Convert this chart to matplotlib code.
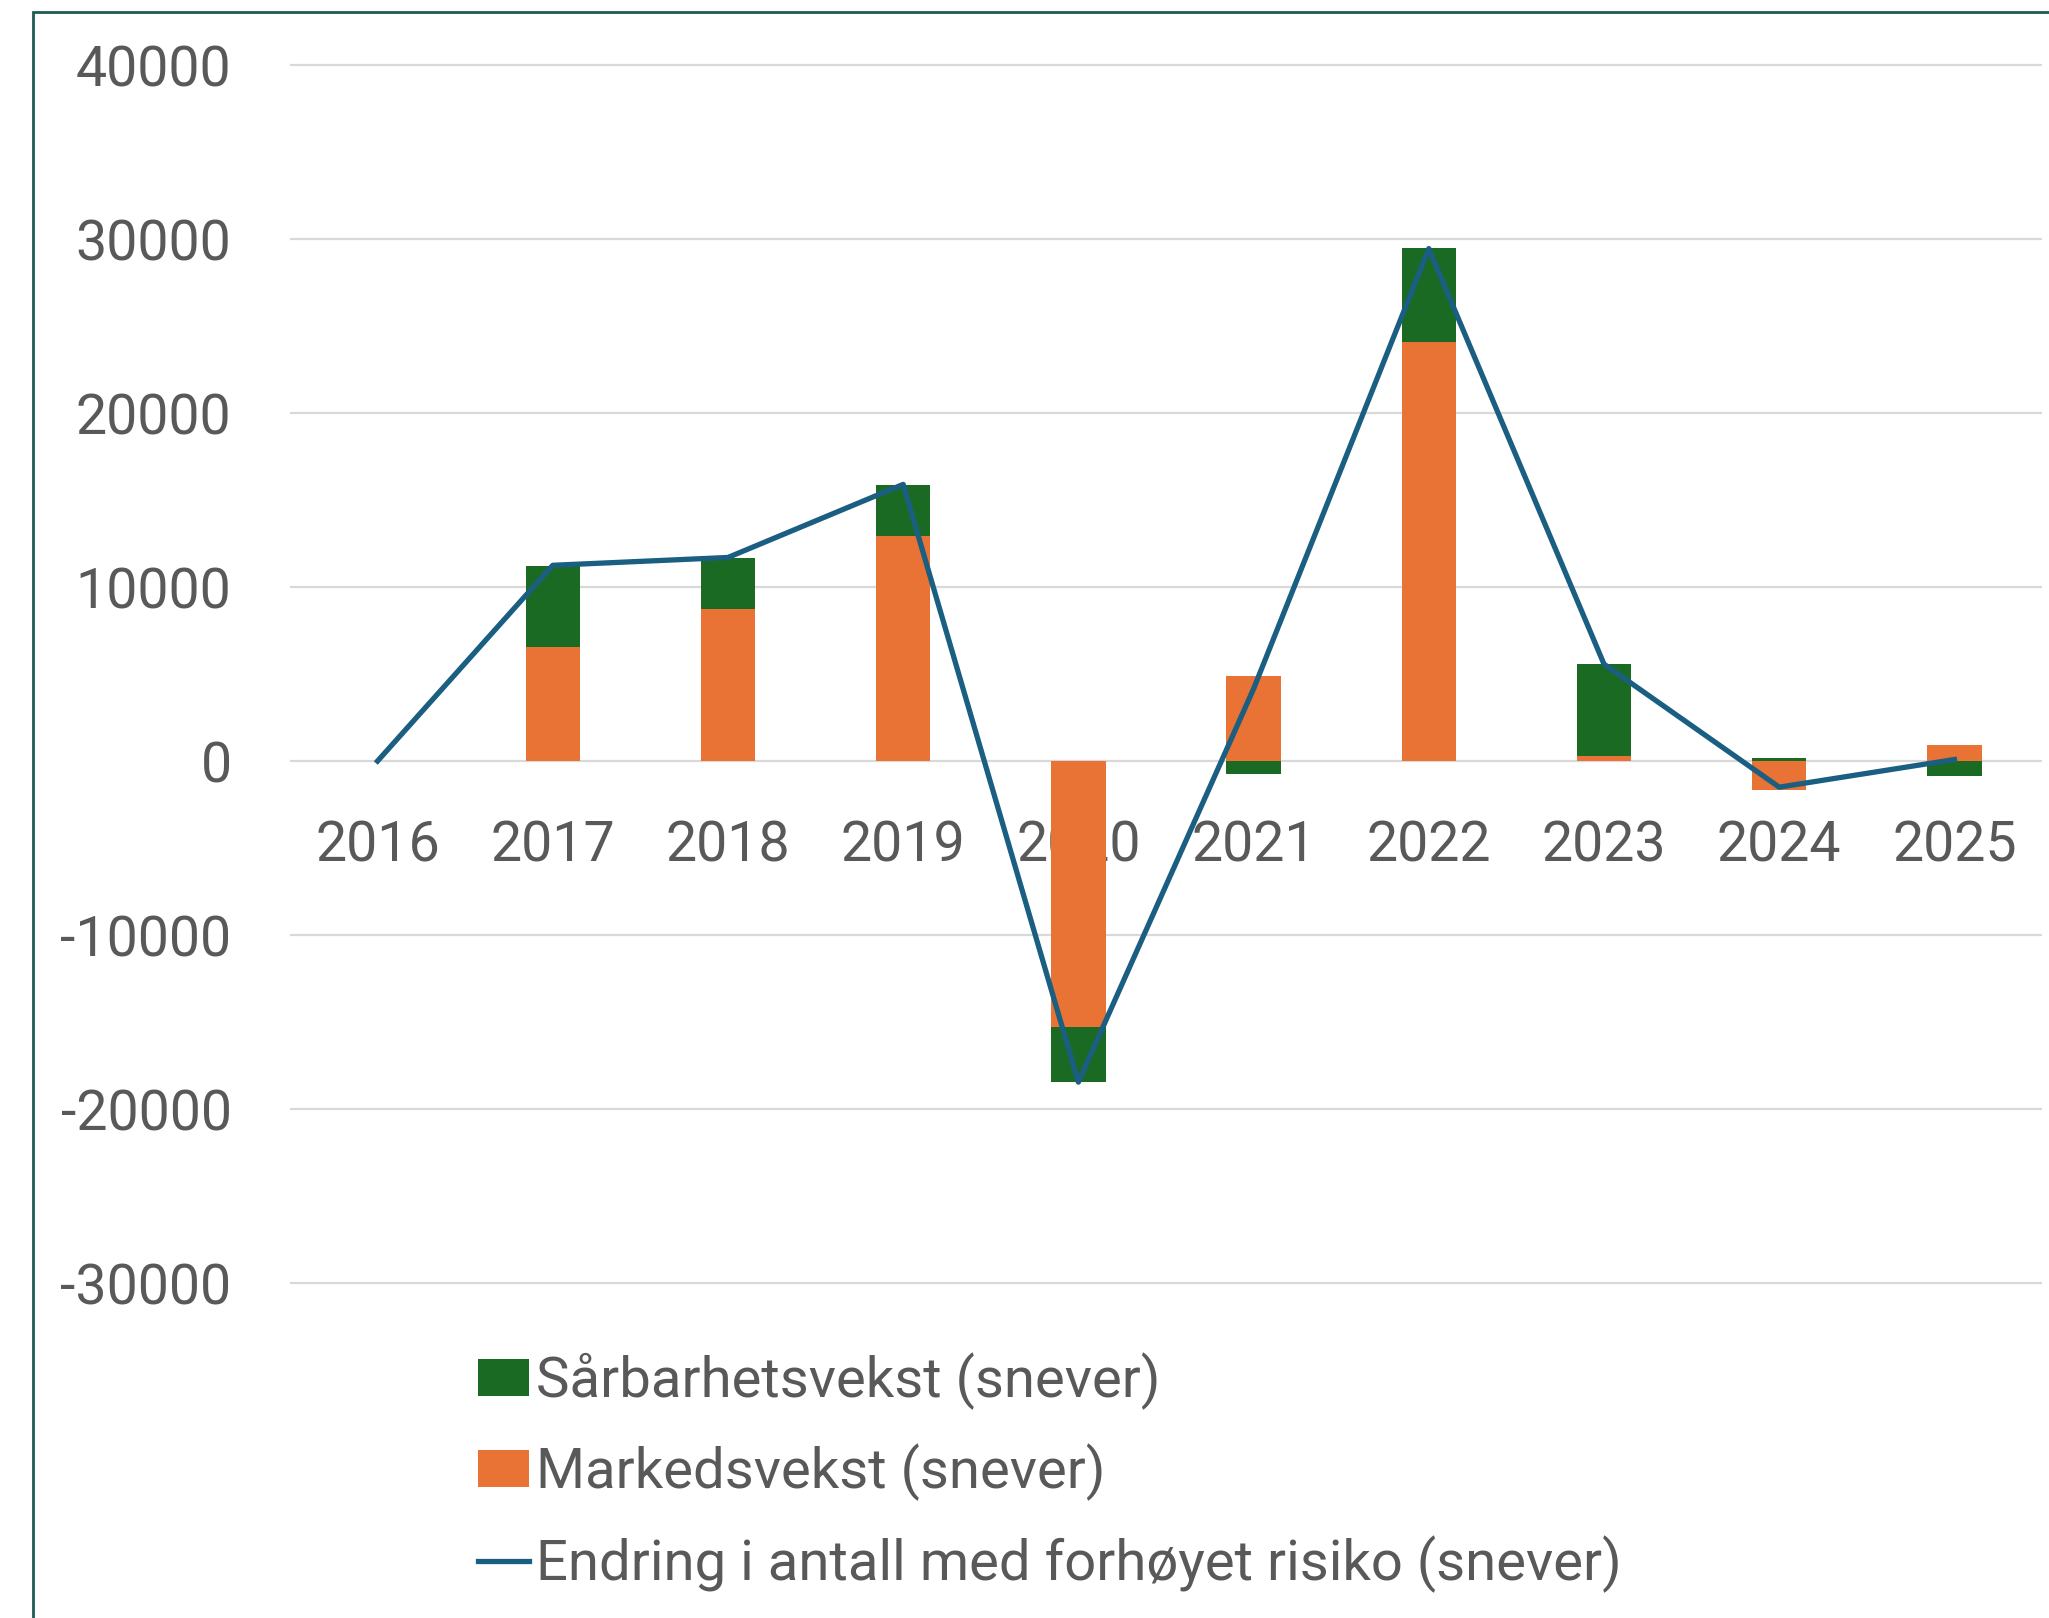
import numpy as np
import matplotlib
matplotlib.use("Agg")
import matplotlib.pyplot as plt
from matplotlib.patches import Rectangle

plt.rcParams['font.family'] = ['Roboto', 'DejaVu Sans']

# data
years = ['2016', '2017', '2018', '2019', '2020', '2021', '2022', '2023', '2024', '2025']
markedsvekst = [0, 6550, 8750, 12950, -15300, 4900, 24100, 290, -1670, 940]
sarbarhetsvekst = [0, 4650, 2920, 2890, -3150, -750, 5400, 5280, 170, -850]
endring = [0, 11250, 11700, 15900, -18450, 4150, 29450, 5570, -1500, 90]
yticks = [-30000, -20000, -10000, 0, 10000, 20000, 30000, 40000]

c_green = '#1B6A24'
c_orange = '#E87335'
c_line = '#1A5E82'
c_text = '#595959'

fig = plt.figure(figsize=(20.49, 16.18), dpi=100)
ax = fig.add_axes([0.1415, 0.2016, 0.8551, 0.7636])

x = np.arange(len(years))
m = np.array(markedsvekst)
s = np.array(sarbarhetsvekst)
# excel-style stacking: same sign stacks on market, opposite sign starts at 0
bottom_s = np.where(np.sign(s) == np.sign(m), m, 0)

bm = ax.bar(x, m, width=0.31, color=c_orange, zorder=2)
bs = ax.bar(x, s, width=0.31, bottom=bottom_s, color=c_green, zorder=2)
ln, = ax.plot(x, endring, color=c_line, lw=3.8, zorder=3)

ax.set_xlim(-0.5, 9.5)
ax.set_ylim(-30500, 40500)
ax.set_yticks(yticks)
ax.set_yticklabels([str(v) for v in yticks])
ax.set_xticks(x)
ax.set_xticklabels(years)
ax.yaxis.grid(True, color='#D9D9D9', lw=1.6, zorder=0)
ax.set_axisbelow(True)
for sp in ['top', 'right', 'left']:
    ax.spines[sp].set_visible(False)
ax.spines['bottom'].set_position(('data', 0))
ax.spines['bottom'].set_visible(False)
ax.tick_params(axis='x', length=0, pad=42, labelsize=40, labelcolor=c_text)
ax.tick_params(axis='y', length=0, pad=42, labelsize=40, labelcolor=c_text)

fig.legend([bs, bm, ln],
           ['Sårbarhetsvekst (snever)', 'Markedsvekst (snever)',
            'Endring i antall med forhøyet risiko (snever)'],
           loc='upper left', bbox_to_anchor=(0.2335, 0.164), frameon=False,
           fontsize=40.5, labelcolor=c_text, handlelength=0.9, handleheight=0.63,
           handletextpad=0.12, labelspacing=0.6, borderpad=0, borderaxespad=0)

# outer frame of the chart area (partly cut off)
fig.patches.append(Rectangle((33 / 2049, -0.1), 1.2, 1 - 12 / 1618 + 0.1,
                             transform=fig.transFigure, fill=False,
                             edgecolor='#1F5B4F', lw=2))

fig.savefig('out.png', dpi=100)
